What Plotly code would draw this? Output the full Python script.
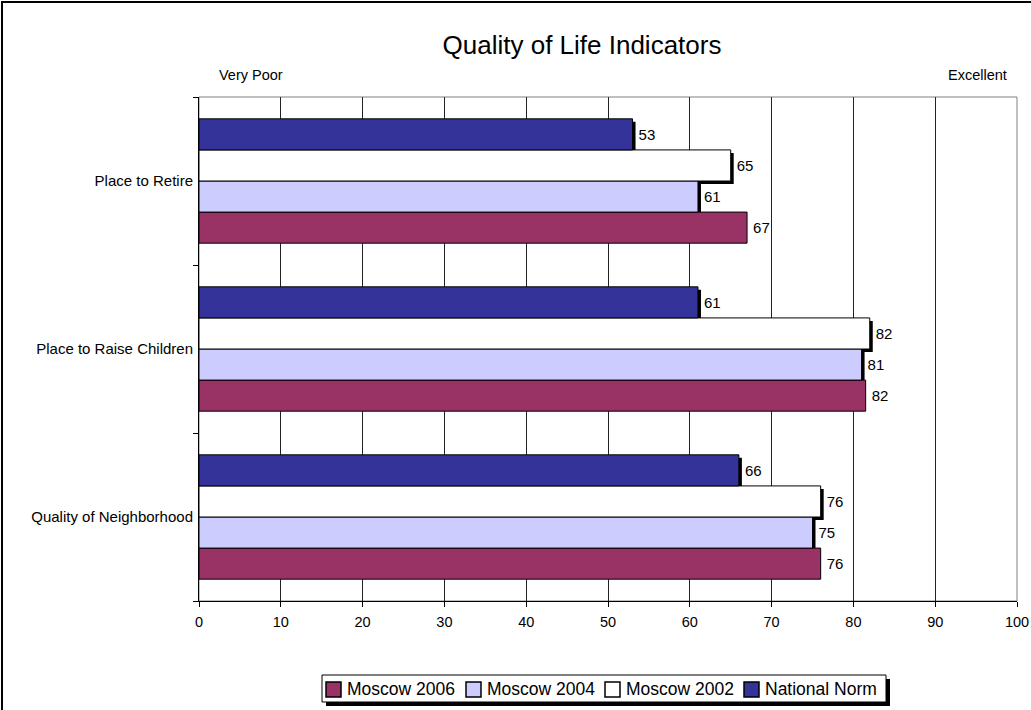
import plotly.graph_objects as go

# categories bottom-to-top, as they sit on the axis
categories = ["Quality of Neighborhood", "Place to Raise Children", "Place to Retire"]

national_norm = [66, 61, 53]
moscow_2002 = [76, 82, 65]
moscow_2004 = [75, 81, 61]
moscow_2006 = [76, 81.5, 67]

x_ticks = [0, 10, 20, 30, 40, 50, 60, 70, 80, 90, 100]

W, H = 1031, 710
L, R, T, B = 199, 1017, 97, 601


def px_x(p):
    return (p - L) / (R - L)


def px_y(p):
    return (B - p) / (B - T)


BAR_W = 0.185
# (name, values, fill, offset of bar bottom within group, has shadow)
series = [
    ("National Norm", national_norm, "#333399", BAR_W, True),
    ("Moscow 2002", moscow_2002, "#FFFFFF", 0.0, True),
    ("Moscow 2004", moscow_2004, "#CCCCFF", -BAR_W, True),
    ("Moscow 2006", moscow_2006, "#993366", -2 * BAR_W, False),
]

SHADOW_DX = 3 / ((R - L) / 100)   # 3 px in data units
SHADOW_DY = 3 / ((B - T) / 3)     # 3 px in category units

fig = go.Figure()

# drop shadows first, so the bars sit on top
for name, vals, color, off, shadow in series:
    if not shadow:
        continue
    fig.add_trace(go.Bar(
        y=categories, x=[v + SHADOW_DX for v in vals], orientation="h",
        offset=off - SHADOW_DY, width=BAR_W,
        marker=dict(color="black", line=dict(width=0)),
        showlegend=False, hoverinfo="skip",
    ))

for name, vals, color, off, shadow in reversed(series):
    fig.add_trace(go.Bar(
        name=name, y=categories, x=vals, orientation="h",
        offset=off, width=BAR_W,
        marker=dict(color=color, line=dict(color="black", width=1)),
        texttemplate="\u2009%{x:.0f}", textposition="outside",
        textfont=dict(size=15, color="black"), cliponaxis=False,
        hoverinfo="skip", showlegend=False,
    ))

fig.update_layout(
    width=W, height=H,
    margin=dict(l=L, r=W - R, t=T, b=H - B, autoexpand=False),
    barmode="overlay",
    plot_bgcolor="white", paper_bgcolor="white",
    font=dict(family="Liberation Sans, Arial, sans-serif", size=14, color="black"),
    title=dict(text="Quality of Life Indicators", x=582 / W, xanchor="center",
               y=1 - 45 / H, yanchor="middle", font=dict(size=26)),
    showlegend=False,
)

fig.update_xaxes(
    range=[0, 100], tickvals=x_ticks, showgrid=True, gridcolor="#222", gridwidth=1,
    showline=True, linecolor="black", linewidth=1, ticks="outside", ticklen=5,
    tickcolor="black", zeroline=False, tickfont=dict(size=14.5), ticklabelstandoff=3,
    automargin=False,
)
fig.update_yaxes(
    type="category", categoryorder="array", categoryarray=categories,
    tickson="boundaries", ticks="outside", ticklen=5, tickcolor="black",
    showline=True, linecolor="black", linewidth=1, showgrid=False,
    tickfont=dict(size=15), ticklabelstandoff=2, automargin=False,
)

fig.add_annotation(text="Very Poor", xref="paper", yref="paper", x=px_x(217), y=px_y(75),
                   xanchor="left", yanchor="middle", showarrow=False, font=dict(size=14.5))
fig.add_annotation(text="Excellent", xref="paper", yref="paper", x=px_x(1009), y=px_y(75),
                   xanchor="right", yanchor="middle", showarrow=False, font=dict(size=14.5))

# plot-area frame (grey top/right) and the outer chart border
fig.add_shape(type="rect", xref="paper", yref="paper", x0=0, x1=1, y0=0, y1=1,
              line=dict(color="#808080", width=1), layer="below")
fig.add_shape(type="rect", xref="paper", yref="paper",
              x0=px_x(2), x1=px_x(W + 10), y0=px_y(H + 10), y1=px_y(2),
              line=dict(color="black", width=2))

# Excel-style legend box with drop shadow
LEG_X0, LEG_X1, LEG_Y0, LEG_Y1 = 322, 886, 675, 702
fig.add_shape(type="rect", xref="paper", yref="paper",
              x0=px_x(LEG_X0 + 4), x1=px_x(LEG_X1 + 4), y0=px_y(LEG_Y1 + 4), y1=px_y(LEG_Y0 + 4),
              fillcolor="black", line=dict(width=0))
fig.add_shape(type="rect", xref="paper", yref="paper",
              x0=px_x(LEG_X0), x1=px_x(LEG_X1), y0=px_y(LEG_Y1), y1=px_y(LEG_Y0),
              fillcolor="white", line=dict(color="black", width=1))
legend_x = [326, 466, 605, 744]
for (name, vals, color, off, shadow), lx in zip(reversed(series), legend_x):
    fig.add_shape(type="rect", xref="paper", yref="paper",
                  x0=px_x(lx), x1=px_x(lx + 15), y0=px_y(697), y1=px_y(682),
                  fillcolor=color, line=dict(color="black", width=1.5))
    fig.add_annotation(text=name, xref="paper", yref="paper", x=px_x(lx + 19), y=px_y(689),
                       xanchor="left", yanchor="middle", showarrow=False,
                       font=dict(size=17.5))

fig.write_html("out.html", config={"displayModeBar": False},
               post_script="document.body.style.margin='0px';")
